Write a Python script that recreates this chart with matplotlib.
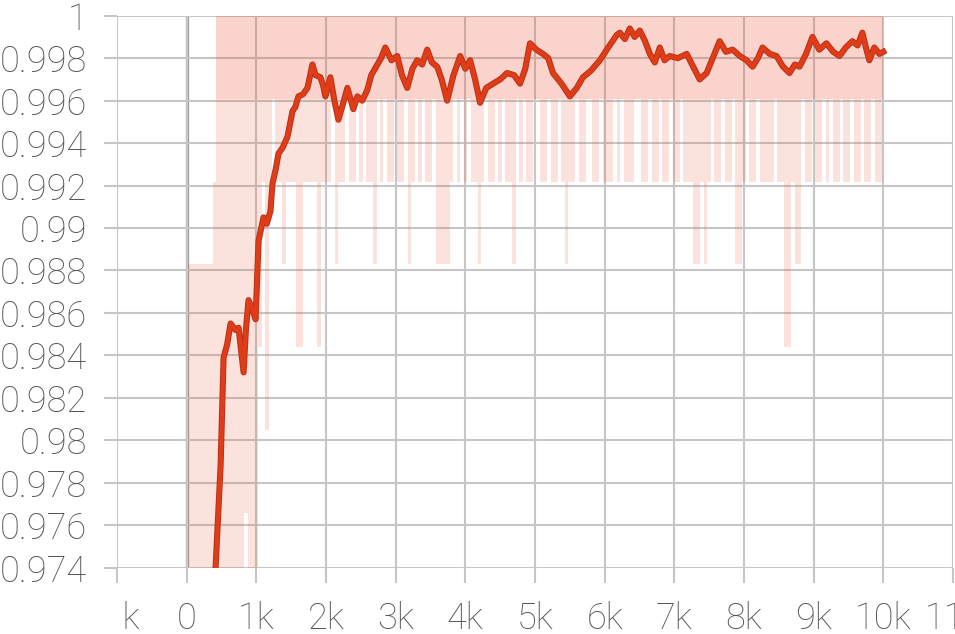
import matplotlib
matplotlib.use("Agg")
import matplotlib.pyplot as plt
import numpy as np
from matplotlib.transforms import Bbox

# Smoothed accuracy curve
smooth_steps = [
    400, 415, 487, 530, 580, 630, 700, 745, 790, 817,
    850, 888, 940, 989, 1032, 1070, 1103, 1150, 1203, 1232,
    1280, 1318, 1380, 1447, 1519, 1560, 1605, 1670, 1734, 1805,
    1850, 1920, 1960, 1991, 2063, 2120, 2178, 2240, 2307, 2393,
    2450, 2520, 2593, 2650, 2720, 2790, 2851, 2940, 3023, 3090,
    3166, 3240, 3309, 3380, 3453, 3520, 3596, 3660, 3739, 3830,
    3926, 4000, 4069, 4140, 4212, 4300, 4398, 4500, 4599, 4700,
    4785, 4860, 4928, 5020, 5115, 5190, 5258, 5380, 5501, 5600,
    5688, 5800, 5931, 6050, 6175, 6218, 6290, 6361, 6430, 6504,
    6580, 6648, 6720, 6791, 6860, 6934, 7050, 7178, 7270, 7364,
    7464, 7550, 7650, 7740, 7837, 7940, 8037, 8123, 8200, 8266,
    8370, 8467, 8560, 8653, 8730, 8797, 8890, 8983, 9080, 9183,
    9280, 9370, 9460, 9556, 9630, 9699, 9750, 9799, 9870, 9943, 10000,
]
smooth_vals = [
    0.9725, 0.9740, 0.9788, 0.9839, 0.9845, 0.9855, 0.9852, 0.9853, 0.9840, 0.9832,
    0.9852, 0.9866, 0.9862, 0.9857, 0.9894, 0.9900, 0.9905, 0.9902, 0.9908, 0.9921,
    0.9928, 0.9935, 0.9938, 0.9943, 0.9955, 0.9957, 0.9962, 0.9963, 0.9966, 0.9977,
    0.9972, 0.9971, 0.9967, 0.9962, 0.9971, 0.9960, 0.9951, 0.9958, 0.9966, 0.9956,
    0.9962, 0.9960, 0.9965, 0.9972, 0.9976, 0.9980, 0.9985, 0.9979, 0.9981, 0.9972,
    0.9966, 0.9975, 0.9979, 0.9977, 0.9984, 0.9978, 0.9976, 0.9970, 0.9960, 0.9972,
    0.9981, 0.9975, 0.9979, 0.9970, 0.9959, 0.9966, 0.9968, 0.9970, 0.9973, 0.9972,
    0.9968, 0.9975, 0.9987, 0.9984, 0.9982, 0.9980, 0.9973, 0.9968, 0.9962, 0.9966,
    0.9971, 0.9974, 0.9979, 0.9985, 0.9991, 0.9992, 0.9989, 0.9994, 0.9990, 0.9993,
    0.9988, 0.9982, 0.9978, 0.9985, 0.9979, 0.9981, 0.9980, 0.9982, 0.9976, 0.9970,
    0.9973, 0.9980, 0.9988, 0.9983, 0.9984, 0.9981, 0.9979, 0.9976, 0.9980, 0.9985,
    0.9982, 0.9981, 0.9976, 0.9973, 0.9977, 0.9976, 0.9982, 0.9990, 0.9984, 0.9987,
    0.9983, 0.9981, 0.9985, 0.9988, 0.9986, 0.9992, 0.9985, 0.9979, 0.9985, 0.9982, 0.9983,
]

# Raw values, binned every 50 steps: fewest / most misclassified samples
# out of a 256 batch inside each bin
raw_step = 50
raw_batch = 256
raw_best_miss = [
    20, 3, 3, 3, 3, 3, 3, 3, 2, 0, 0, 0, 0, 0, 0, 0, 0, 0, 0, 0, 0,
] + [0] * 180
raw_worst_miss = [
    20, 12, 10, 14, 9, 11, 10, 12, 9, 8, 10, 7, 9, 12, 8, 9, 10, 6, 11, 8, 7,
    4, 2, 5, 2, 1, 2, 2, 3, 2, 2, 2, 4, 4, 2, 2, 2, 2, 4, 2, 2,
    2, 1, 3, 2, 2, 1, 2, 2, 1, 2, 1, 2, 2, 3, 1, 2, 1, 2, 2, 1,
    2, 2, 1, 3, 2, 1, 2, 1, 2, 2, 1, 3, 3, 3, 3, 2, 1, 2, 1, 2,
    1, 2, 2, 3, 2, 1, 2, 2, 1, 2, 1, 2, 2, 3, 1, 2, 1, 2, 2, 1,
    1, 2, 2, 1, 2, 2, 1, 2, 3, 2, 2, 1, 2, 2, 1, 1, 2, 2, 1, 2,
    2, 2, 1, 2, 1, 2, 2, 2, 1, 1, 2, 2, 1, 2, 2, 1, 2, 2, 1, 2,
    2, 1, 2, 2, 2, 3, 3, 2, 3, 2, 1, 2, 2, 1, 2, 2, 1, 3, 3, 2,
    1, 2, 2, 1, 2, 2, 2, 2, 1, 2, 2, 4, 4, 2, 3, 3, 1, 2, 2, 1,
    2, 2, 1, 2, 1, 2, 2, 1, 2, 2, 1, 2, 2, 1, 2, 2, 1, 2, 2, 1,
]
raw_steps = np.arange(len(raw_worst_miss)) * raw_step
raw_hi = 1 - np.array(raw_best_miss) / raw_batch
raw_lo = 1 - np.array(raw_worst_miss) / raw_batch

x_ticks = list(range(-1000, 12000, 1000))
x_labels = ["-1k", "0"] + [f"{k}k" for k in range(1, 12)]
y_ticks = [0.974 + 0.002 * i for i in range(14)]
y_labels = [f"{v:.3f}".rstrip("0").rstrip(".") for v in y_ticks]

grid_col = "#c6c6c6"
txt_col = "#555555"
raw_col = "#e8573a"

fig = plt.figure(figsize=(9.55, 6.34), dpi=100)
ax = fig.add_axes([117 / 955, 1 - 567.7 / 634, (953 - 117) / 955, (567.7 - 15.7) / 634])

# raw series: dense enough that it reads as a band
ax.fill_between(raw_steps, raw_lo, raw_hi, step="mid", color=raw_col,
                alpha=0.17, lw=0, zorder=2)
core_lo = np.maximum(raw_lo, 1 - 1 / raw_batch)
core_hi = np.maximum(raw_hi, core_lo)
ax.fill_between(raw_steps, core_lo, core_hi, step="mid", color=raw_col,
                alpha=0.10, lw=0, zorder=2)

ax.plot(smooth_steps, smooth_vals, color="#b83219", lw=4.4, zorder=3)
ax.plot(smooth_steps, smooth_vals, color="#e03c18", lw=3.0, zorder=3)

ax.set_xlim(-1000, 11000)
ax.set_ylim(0.974, 1.0)
ax.set_xticks(x_ticks)
ax.set_xticklabels(x_labels)
ax.set_yticks(y_ticks)
ax.set_yticklabels(y_labels)

ax.grid(True, color=grid_col, lw=1.5, zorder=1)
ax.axvline(0, color="#a0a0a0", lw=2.4, zorder=1)
for s in ax.spines.values():
    s.set_visible(False)

ax.tick_params(axis="y", length=9.5, width=1.5, color=grid_col, pad=12,
               labelsize=26, labelcolor=txt_col)
ax.tick_params(axis="x", length=11, width=1.5, color=grid_col, pad=13,
               labelsize=26, labelcolor=txt_col)
for lab in ax.get_xticklabels() + ax.get_yticklabels():
    lab.set_fontfamily("Roboto")
    lab.set_fontweight("light")

# the leftmost x label is cut by the plot edge
first = ax.xaxis.get_major_ticks()[0].label1
first.set_clip_box(Bbox.from_extents(123, 0, 955, 634))
first.set_clip_on(True)

fig.savefig("out.png", dpi=100)
